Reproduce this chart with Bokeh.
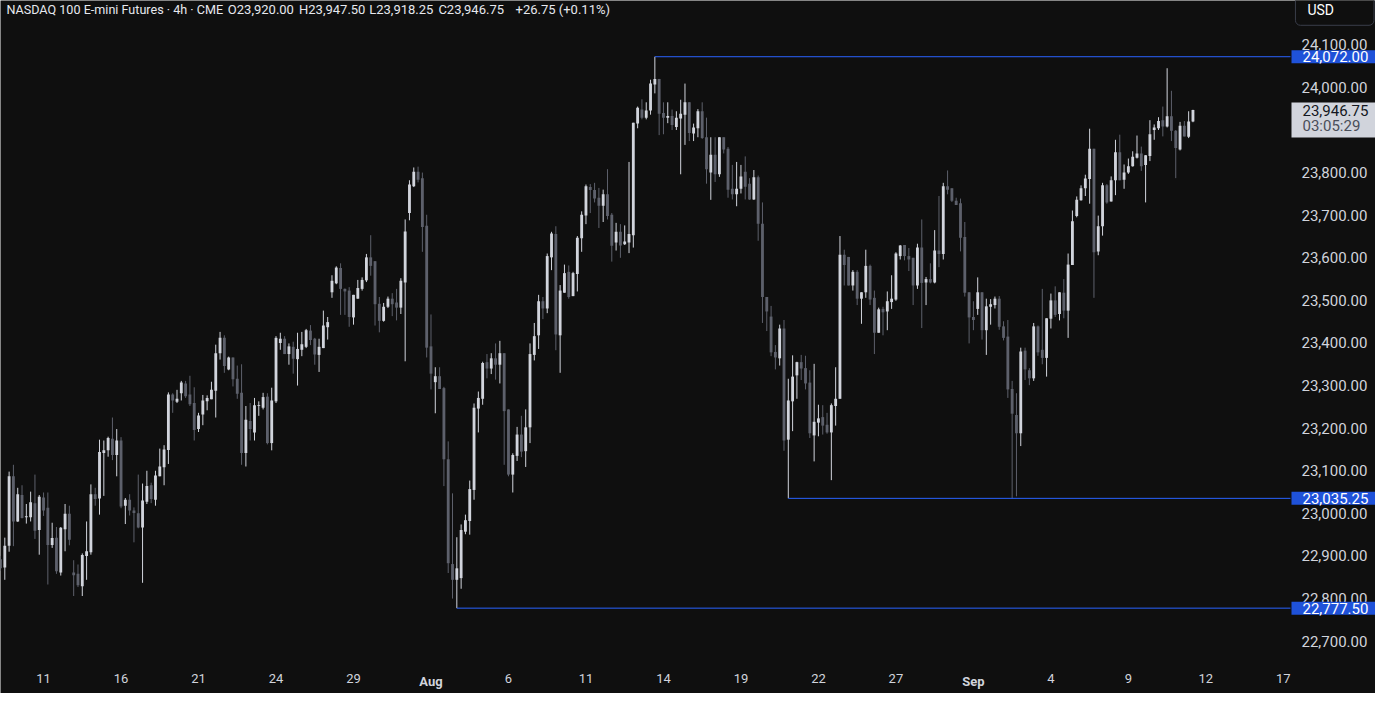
from bokeh.plotting import figure
from bokeh.models import Range1d, FixedTicker, NumeralTickFormatter, Label, ColumnDataSource
from bokeh.embed import file_html
from bokeh.resources import INLINE

# ---------------- data (4h bars, NQ futures) ----------------
opens = [
    22892, 22873, 22924, 23087, 22981, 23043, 22991, 22991, 23024, 22961,
    23037, 23013, 22926, 22943, 22861, 22963, 22999, 22861, 22858, 22829,
    22900, 22909, 23045, 23035, 23142, 23148, 23175, 23137, 23171, 23018,
    23032, 23007, 23000, 22967, 23027, 23066, 23032, 23087, 23108, 23149,
    23279, 23262, 23282, 23305, 23279, 23259, 23198, 23232, 23263, 23268,
    23288, 23376, 23412, 23338, 23366, 23316, 23283, 23142, 23217, 23190,
    23252, 23248, 23274, 23165, 23263, 23400, 23410, 23374, 23391, 23362,
    23384, 23391, 23429, 23410, 23372, 23388, 23437, 23519, 23540, 23576,
    23527, 23523, 23460, 23504, 23527, 23547, 23601, 23592, 23492, 23452,
    23485, 23504, 23495, 23483, 23542, 23705, 23768, 23802, 23787, 23675,
    23392, 23308, 23322, 23294, 23127, 22881, 22844, 22848, 22957, 22982,
    23055, 23246, 23269, 23355, 23340, 23364, 23349, 23376, 23244, 23091,
    23135, 23185, 23146, 23202, 23372, 23418, 23498, 23481, 23601, 23656,
    23418, 23518, 23567, 23510, 23562, 23646, 23699, 23766, 23759, 23741,
    23722, 23749, 23701, 23636, 23661, 23632, 23636, 23653, 23915, 23948,
    23929, 23946, 24007, 24020, 23940, 23929, 23933, 23907, 23927, 23936,
    23965, 23892, 23904, 23944, 23883, 23800, 23842, 23796, 23883, 23856,
    23762, 23749, 23762, 23802, 23774, 23737, 23789, 23680, 23508, 23462,
    23379, 23364, 23434, 23173, 23263, 23324, 23355, 23341, 23307, 23183,
    23213, 23226, 23208, 23190, 23252, 23269, 23607, 23602, 23535, 23567,
    23504, 23519, 23581, 23506, 23424, 23480, 23474, 23496, 23502, 23604,
    23630, 23604, 23600, 23535, 23624, 23542, 23550, 23542, 23617, 23609,
    23768, 23763, 23734, 23728, 23649, 23519, 23461, 23480, 23519, 23430,
    23485, 23489, 23504, 23439, 23415, 23292, 23231, 23188, 23382, 23336,
    23317, 23439, 23384, 23365, 23457, 23500, 23468, 23518, 23476, 23583,
    23698, 23735, 23763, 23785, 23856, 23615, 23674, 23770, 23732, 23782,
    23848, 23783, 23800, 23815, 23835, 23845, 23818, 23839, 23900, 23904,
    23923, 23908, 23932, 23898, 23854, 23910, 23884, 23920.00,
]
highs = [
    22900, 22943, 23098, 23114, 23060, 23066, 23022, 23051, 23091, 23043,
    23049, 23049, 22978, 22968, 22968, 23022, 23018, 22890, 22880, 22906,
    22981, 23068, 23060, 23173, 23171, 23180, 23225, 23198, 23179, 23036,
    23045, 23014, 23091, 23070, 23100, 23072, 23100, 23152, 23160, 23284,
    23282, 23290, 23311, 23311, 23323, 23296, 23236, 23278, 23277, 23309,
    23396, 23426, 23418, 23368, 23366, 23347, 23350, 23252, 23259, 23271,
    23263, 23283, 23282, 23295, 23416, 23424, 23416, 23399, 23403, 23424,
    23426, 23433, 23442, 23412, 23410, 23476, 23461, 23559, 23580, 23587,
    23528, 23531, 23513, 23548, 23554, 23609, 23653, 23592, 23508, 23494,
    23509, 23517, 23527, 23552, 23690, 23782, 23812, 23814, 23800, 23701,
    23467, 23343, 23343, 23297, 23169, 23047, 22944, 22974, 22997, 23077,
    23258, 23286, 23356, 23374, 23376, 23399, 23405, 23376, 23244, 23141,
    23203, 23229, 23244, 23399, 23447, 23513, 23508, 23610, 23661, 23674,
    23536, 23584, 23582, 23567, 23651, 23709, 23772, 23773, 23776, 23764,
    23760, 23808, 23705, 23682, 23679, 23676, 23825, 23917, 23955, 23972,
    23965, 24018, 24072, 24020, 23965, 23965, 23948, 23944, 23971, 24009,
    23965, 23915, 23949, 23965, 23929, 23883, 23883, 23883, 23883, 23860,
    23818, 23825, 23818, 23838, 23787, 23806, 23793, 23730, 23508, 23487,
    23395, 23443, 23454, 23316, 23371, 23356, 23372, 23370, 23336, 23351,
    23255, 23254, 23236, 23258, 23343, 23651, 23619, 23602, 23571, 23571,
    23519, 23619, 23584, 23523, 23483, 23485, 23521, 23559, 23613, 23630,
    23630, 23623, 23600, 23633, 23690, 23555, 23587, 23665, 23745, 23776,
    23805, 23763, 23741, 23739, 23684, 23519, 23498, 23554, 23519, 23504,
    23503, 23509, 23510, 23451, 23454, 23311, 23282, 23389, 23389, 23341,
    23447, 23441, 23527, 23458, 23516, 23533, 23519, 23550, 23610, 23711,
    23744, 23770, 23795, 23903, 23856, 23699, 23776, 23773, 23791, 23877,
    23889, 23819, 23833, 23850, 23887, 23861, 23841, 23923, 23913, 23930,
    23955, 24045, 23992, 23900, 23919, 23921, 23944, 23947.50,
]
lows = [
    22865, 22844, 22910, 22923, 22980, 22988, 22976, 22981, 22940, 22903,
    22994, 22833, 22919, 22858, 22854, 22911, 22925, 22806, 22827, 22806,
    22844, 22903, 23018, 22997, 23041, 23133, 23125, 23087, 23012, 22975,
    22995, 22932, 22965, 22837, 23022, 23024, 23018, 23087, 23066, 23116,
    23236, 23259, 23265, 23271, 23252, 23171, 23191, 23207, 23242, 23268,
    23225, 23361, 23330, 23336, 23298, 23269, 23114, 23110, 23171, 23171,
    23229, 23244, 23162, 23148, 23259, 23384, 23374, 23349, 23328, 23300,
    23369, 23388, 23395, 23349, 23332, 23388, 23408, 23506, 23538, 23466,
    23466, 23438, 23443, 23504, 23523, 23543, 23558, 23441, 23425, 23450,
    23482, 23463, 23453, 23468, 23357, 23688, 23766, 23777, 23614, 23366,
    23291, 23235, 23292, 23064, 22860, 22800, 22777.50, 22823, 22951, 22950,
    23032, 23190, 23255, 23317, 23327, 23314, 23305, 23114, 23087, 23049,
    23123, 23132, 23109, 23165, 23359, 23386, 23456, 23470, 23571, 23383,
    23330, 23518, 23504, 23510, 23521, 23614, 23679, 23705, 23730, 23670,
    23684, 23690, 23591, 23617, 23600, 23630, 23611, 23624, 23904, 23925,
    23925, 23936, 23986, 23888, 23890, 23916, 23900, 23900, 23796, 23865,
    23874, 23874, 23883, 23879, 23774, 23736, 23778, 23790, 23845, 23741,
    23737, 23721, 23751, 23737, 23736, 23736, 23640, 23447, 23428, 23369,
    23338, 23347, 23147, 23035.25, 23193, 23269, 23313, 23291, 23177, 23122,
    23181, 23185, 23187, 23078, 23206, 23269, 23535, 23535, 23523, 23489,
    23445, 23506, 23489, 23374, 23424, 23418, 23430, 23480, 23499, 23596,
    23594, 23569, 23489, 23527, 23435, 23489, 23540, 23540, 23578, 23596,
    23749, 23731, 23724, 23615, 23509, 23399, 23430, 23466, 23408, 23372,
    23443, 23481, 23431, 23406, 23271, 23035.25, 23040, 23158, 23313, 23301,
    23311, 23370, 23350, 23321, 23434, 23461, 23453, 23458, 23412, 23583,
    23695, 23734, 23745, 23727, 23506, 23606, 23652, 23727, 23732, 23747,
    23782, 23762, 23797, 23814, 23833, 23804, 23730, 23827, 23877, 23900,
    23885, 23906, 23874, 23787, 23852, 23885, 23881, 23918.25,
]
closes = [
    22871, 22924, 23087, 22981, 23045, 22989, 22993, 23026, 22959, 23039,
    23007, 22926, 22942, 22864, 22966, 22999, 22938, 22855, 22831, 22902,
    22911, 23045, 23034, 23144, 23148, 23177, 23137, 23171, 23016, 23032,
    23007, 23001, 22967, 23030, 23064, 23034, 23089, 23110, 23150, 23279,
    23265, 23269, 23307, 23275, 23256, 23196, 23230, 23265, 23271, 23290,
    23376, 23412, 23346, 23366, 23315, 23281, 23142, 23220, 23198, 23254,
    23254, 23273, 23165, 23265, 23412, 23410, 23374, 23392, 23363, 23386,
    23397, 23430, 23407, 23373, 23391, 23441, 23449, 23546, 23577, 23527,
    23521, 23461, 23513, 23529, 23548, 23601, 23581, 23491, 23452, 23485,
    23504, 23491, 23483, 23546, 23662, 23772, 23802, 23783, 23672, 23389,
    23328, 23322, 23292, 23127, 22883, 22844, 22871, 22961, 22984, 23057,
    23248, 23271, 23353, 23340, 23364, 23349, 23376, 23240, 23091, 23137,
    23185, 23145, 23202, 23374, 23416, 23498, 23481, 23604, 23657, 23420,
    23523, 23564, 23508, 23564, 23647, 23701, 23768, 23759, 23739, 23722,
    23749, 23698, 23628, 23661, 23629, 23638, 23656, 23917, 23952, 23929,
    23946, 24009, 24020, 23938, 23929, 23933, 23912, 23929, 23938, 23965,
    23893, 23906, 23944, 23881, 23808, 23842, 23796, 23883, 23854, 23760,
    23749, 23762, 23791, 23767, 23737, 23789, 23680, 23508, 23474, 23378,
    23366, 23434, 23171, 23265, 23321, 23355, 23340, 23305, 23188, 23215,
    23223, 23206, 23190, 23254, 23269, 23607, 23583, 23535, 23567, 23504,
    23519, 23581, 23502, 23424, 23479, 23472, 23498, 23504, 23610, 23629,
    23604, 23596, 23535, 23624, 23541, 23550, 23542, 23617, 23609, 23768,
    23760, 23734, 23724, 23647, 23518, 23460, 23454, 23519, 23430, 23486,
    23491, 23504, 23438, 23412, 23291, 23234, 23188, 23380, 23338, 23317,
    23439, 23378, 23365, 23458, 23500, 23466, 23519, 23476, 23584, 23686,
    23736, 23763, 23786, 23856, 23613, 23674, 23770, 23730, 23782, 23848,
    23782, 23800, 23815, 23837, 23845, 23815, 23841, 23890, 23906, 23921,
    23908, 23932, 23898, 23858, 23910, 23885, 23920.00, 23946.75,
]

day_labels = ["11", "16", "21", "24", "29", "Aug", "6", "11", "14", "19",
              "22", "27", "Sep", "4", "9", "12", "17"]
day_offsets = [0, 3, 6, 9, 12, 15, 18, 21, 24, 27, 30, 33, 36, 39, 42, 45, 48]
first_day_bar = 10
bars_per_day = 6
price_ticks = list(range(22700, 24101, 100))
ray_levels = [24072.00, 23035.25, 22777.50]
ray_kinds = ["high", "low", "low"]
symbol_text = "NASDAQ 100 E-mini Futures \u00b7 4h \u00b7 CME"
countdown = "03:05:29"
currency = "USD"

# ---------------- layout / style ----------------
BG = "#0f0f0f"
UP = "#d1d4dc"
DOWN = "#5d606b"
RAY = "#2962ff"
RAY_BOX = "#1f52d9"
TXT = "#d1d4dc"
FONT = "Roboto"

W, H = 1375, 693
REF_W, REF_H = 1391, 709          # geometry of the original screenshot
PANE_W, PANE_H = 1305, 680        # price pane inside it
BAR_PX = 4.355                    # pixels per bar in the original
TOP_PRICE, PTS_PER_PX = 24204.0, 2.2946
SX, SY = W / REF_W, H / REF_H

x_end = REF_W / BAR_PX
axis_x = PANE_W / BAR_PX
y_lo = TOP_PRICE - PTS_PER_PX * REF_H
axis_y = TOP_PRICE - PTS_PER_PX * PANE_H
AXIS_PX = PANE_W * SX

n = len(opens)
xs = list(range(n))
colors = [UP if c >= o else DOWN for o, c in zip(opens, closes)]
src = ColumnDataSource(dict(
    x=xs, open=opens, high=highs, low=lows, close=closes,
    top=[max(o, c) for o, c in zip(opens, closes)],
    bottom=[min(o, c) for o, c in zip(opens, closes)],
    color=colors,
))

p = figure(width=W, height=H, output_backend="svg", toolbar_location=None,
           x_range=Range1d(0, x_end), y_range=Range1d(y_lo, TOP_PRICE),
           y_axis_location="right", title_location=None,
           background_fill_color=BG, border_fill_color=BG, outline_line_color=None,
           min_border_left=0, min_border_top=0, min_border_right=0, min_border_bottom=0)
p.xgrid.visible = False
p.ygrid.visible = False

# wicks and bodies
p.segment(x0="x", y0="low", x1="x", y1="high", line_color="color", line_width=1, source=src)
p.vbar(x="x", width=0.66, top="top", bottom="bottom", fill_color="color", line_color=None, source=src)

# horizontal rays from the extreme bars to the price scale
ray_starts = []
for lev, kind in zip(ray_levels, ray_kinds):
    arr = highs if kind == "high" else lows
    ray_starts.append(next(i for i, v in enumerate(arr) if v == lev))
p.segment(x0=ray_starts, x1=[axis_x] * len(ray_levels), y0=ray_levels, y1=ray_levels,
          line_color=RAY, line_width=1)

# price axis (inside the canvas, at the pane edge)
ya = p.yaxis[0]
ya.fixed_location = axis_x
ya.ticker = FixedTicker(ticks=price_ticks)
ya.formatter = NumeralTickFormatter(format="0,0.00")
ya.axis_line_color = None
ya.major_tick_line_color = None
ya.minor_tick_line_color = None
ya.major_tick_out = 0
ya.major_tick_in = 0
ya.major_label_standoff = 11
ya.major_label_text_color = TXT
ya.major_label_text_font = FONT
ya.major_label_text_font_size = "15px"

# time axis
tick_bars = [first_day_bar + bars_per_day * d for d in day_offsets]
months = {"Aug", "Sep"}
xa = p.xaxis[0]
xa.fixed_location = axis_y
xa.ticker = FixedTicker(ticks=tick_bars)
xa.major_label_overrides = {t: ("" if lab in months else lab) for t, lab in zip(tick_bars, day_labels)}
xa.axis_line_color = None
xa.major_tick_line_color = None
xa.minor_tick_line_color = None
xa.major_tick_out = 0
xa.major_tick_in = 0
xa.major_label_standoff = 9
xa.major_label_text_color = TXT
xa.major_label_text_font = FONT
xa.major_label_text_font_size = "13px"

for t, lab in zip(tick_bars, day_labels):
    if lab in months:
        p.add_layout(Label(x=t, y=H - 697 * SY, x_units="data", y_units="screen", text=lab,
                           text_align="center", text_baseline="middle", text_font=FONT,
                           text_font_size="13px", text_font_style="bold", text_color=TXT))

# price tags for the rays (box starts at the pane edge, text padded inside)
PADL = 11
TAG_X = AXIS_PX + 1
for lev in ray_levels:
    p.add_layout(Label(x=TAG_X, y=lev, x_units="screen", y_units="data",
                       text=f"{lev:,.2f}", text_align="left", text_baseline="middle",
                       text_font=FONT, text_font_size="15px", text_color="#ffffff",
                       background_fill_color=RAY_BOX,
                       padding=dict(left=PADL, right=8, top=1, bottom=1)))

# last price tag with countdown
last = closes[-1]
p.add_layout(Label(x=TAG_X, y=last, y_offset=-10, x_units="screen", y_units="data",
                   text=f"{last:,.2f}", text_align="left", text_baseline="middle",
                   text_font=FONT, text_font_size="15px", text_color="#131722",
                   background_fill_color="#d1d4dc",
                   padding=dict(left=PADL, right=8, top=2, bottom=22)))
p.add_layout(Label(x=TAG_X, y=last, y_offset=-16, x_units="screen", y_units="data",
                   text=countdown, text_align="left", text_baseline="middle",
                   text_font=FONT, text_font_size="15px", text_color="#4a4e59",
                   padding=dict(left=PADL, right=0, top=0, bottom=0)))

# currency box
p.add_layout(Label(x=1310 * SX, y=H - 6.3, x_units="screen", y_units="screen",
                   text=currency, text_align="left", text_baseline="middle",
                   text_font=FONT, text_font_size="14px", text_color="#ffffff",
                   background_fill_color=BG, border_line_color="#3a3e4a", border_line_width=1,
                   border_radius=5, padding=dict(left=12, right=40, top=14, bottom=7)))

# header legend
chg = closes[-1] - closes[-2]
pct = chg / closes[-2] * 100
pieces = [
    (6, symbol_text, "12.6px"),
    (230, f"O{opens[-1]:,.2f}", "13px"),
    (302, f"H{highs[-1]:,.2f}", "13px"),
    (373, f"L{lows[-1]:,.2f}", "13px"),
    (443, f"C{closes[-1]:,.2f}", "13px"),
    (521, f"{chg:+,.2f} ({pct:+.2f}%)", "13px"),
]
for px, txt, fs in pieces:
    p.add_layout(Label(x=px * SX, y=H - 9 * SY, x_units="screen", y_units="screen", text=txt,
                       text_align="left", text_baseline="middle", text_font=FONT,
                       text_font_size=fs, text_color="#e6e8ee"))

open("out.html", "w").write(file_html(p, INLINE))
